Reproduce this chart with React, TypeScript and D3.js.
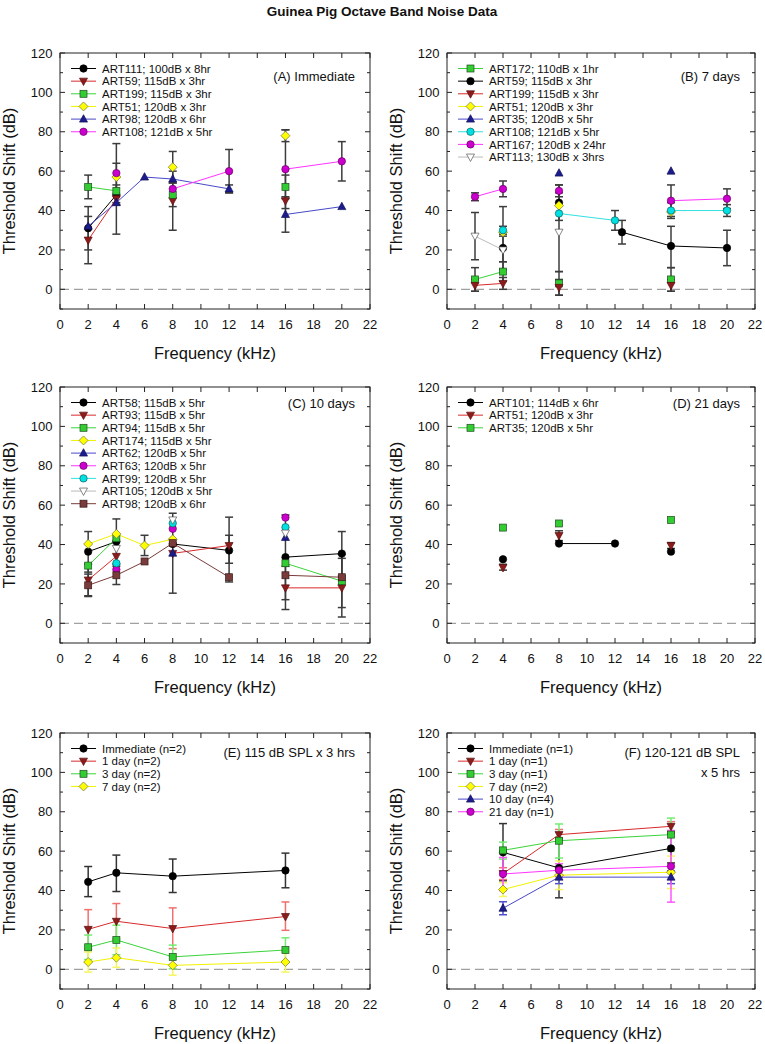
import * as d3 from 'd3';

// [freq kHz, shift dB, errLow, errHigh]; null breaks the line
type Pt = [number, number, number?, number?] | null;

const X_TICKS = [0, 2, 4, 6, 8, 10, 12, 14, 16, 18, 20, 22];
const Y_TICKS = [0, 20, 40, 60, 80, 100, 120];
const Y_MINOR = [-10, 10, 30, 50, 70, 90, 110];

// (A) Immediate
const A_ART111: Pt[] = [[2, 31, 20, 42], [4, 48, 43, 53]];
const A_ART59: Pt[] = [[2, 25, 13, 37], [4, 46, 28, 64], null, [8, 45, 30, 60], null, [16, 45]];
const A_ART199: Pt[] = [[2, 52, 46, 58], [4, 50], null, [8, 48, 42, 54], null, [16, 52, 46, 58]];
const A_ART51: Pt[] = [[4, 57], null, [8, 62, 54, 70], null, [16, 78, 75, 81]];
const A_ART98: Pt[] = [[2, 32], [4, 44], [6, 57], [8, 56], [12, 51, 49, 53], null, [16, 38, 29, 47], [20, 42]];
const A_ART108: Pt[] = [[4, 59, 44, 74], null, [8, 51], [12, 60, 49, 71], null, [16, 61, 41, 81], [20, 65, 55, 75]];

// (B) 7 days
const B_ART172: Pt[] = [[2, 5, -1, 11], [4, 9, 4, 14], null, [8, 3, -3, 9], null, [16, 5, -1, 11]];
const B_ART59: Pt[] = [[4, 21, 14, 28], null, [8, 44, 35, 53], null, [12.5, 29, 23, 35], [16, 22, 11, 32], [20, 21, 12, 30]];
const B_ART199: Pt[] = [[2, 2, -1, 5], [4, 3, 0, 6], null, [8, 1, -3, 5], null, [16, 2, -1, 5]];
const B_ART51: Pt[] = [[4, 29], null, [8, 42.5], null, [16, 39.3]];
const B_ART35: Pt[] = [[8, 59], null, [16, 60]];
const B_ART108: Pt[] = [[4, 30, 27, 32], null, [8, 38.5], [12, 35, 30, 40], null, [16, 40, 36, 44], [20, 40, 37, 43]];
const B_ART167: Pt[] = [[2, 47, 45, 49], [4, 51, 47, 55], null, [8, 50, 47, 53], null, [16, 45, 37, 53], [20, 46, 41, 51]];
const B_ART113: Pt[] = [[2, 27, 15, 39], [4, 20, 10, 42], null, [8, 29, 9, 49]];

// (C) 10 days
const C_ART58: Pt[] = [[2, 36.4, 26, 46.6], [4, 41.5, 30, 53], null, [8, 40.3], [12, 37, 21, 53.9], null, [16, 33.6, 12, 55], [20, 35.4, 24, 46.6]];
const C_ART93: Pt[] = [[2, 22, 14, 30], [4, 34], null, [8, 35.5], [12, 39.5, 30.5, 44.7], null, [16, 18, 7, 29], [20, 18, 3.2, 33]];
const C_ART94: Pt[] = [[2, 29.3], [4, 43.2], null, [16, 30.5], [20, 21.4, 8, 35]];
const C_ART174: Pt[] = [[2, 40.3], [4, 45.4], [6, 39.5, 34.4, 44.7], [8, 42.7]];
const C_ART62: Pt[] = [[8, 35.6, 15.3, 55.9], null, [16, 43.6]];
const C_ART63: Pt[] = [[4, 27.3], null, [8, 48], null, [16, 53.7]];
const C_ART99: Pt[] = [[4, 30.5], null, [8, 50.8], null, [16, 48.8]];
const C_ART105: Pt[] = [[4, 38], null, [8, 52.5], null, [16, 45.8]];
const C_ART98: Pt[] = [[2, 19.3, 13.6, 25], [4, 24.4, 19.7, 29], [6, 31.4], [8, 40.7], [12, 23.4], null, [16, 24.4], [20, 23.4]];

// (D) 21 days
const D_ART101: Pt[] = [[4, 32.5], null, [8, 40.5], [12, 40.5], null, [16, 36.4]];
const D_ART51: Pt[] = [[4, 28.3, 27, 30], null, [8, 44.6, 42, 47], null, [16, 39.5, 38, 41]];
const D_ART35: Pt[] = [[4, 48.6], null, [8, 50.7], null, [16, 52.5]];

// (E) 115 dB SPL x 3 hrs
const E_IMM: Pt[] = [[2, 44.4, 36.9, 52.2], [4, 49, 39.5, 58], [8, 47.3, 39, 56], [16, 50.2, 41.4, 59]];
const E_1D: Pt[] = [[2, 20.3, 10.3, 30.3], [4, 24.4, 15.4, 33.4], [8, 20.7, 10.5, 31.2], [16, 26.8, 19.8, 34.2]];
const E_3D: Pt[] = [[2, 11.2, 5, 17.4], [4, 14.9, 7.4, 22.4], [8, 6.3, 0.3, 12.3], [16, 9.8, 3.6, 16]];
const E_7D: Pt[] = [[2, 3.7, -1.4, 8.8], [4, 5.9, 1, 10.8], [8, 2, -3, 7], [16, 3.7, -1.4, 8.8]];

// (F) 120-121 dB SPL x 5 hrs
const F_IMM: Pt[] = [[4, 59.4, 45, 74], [8, 51.5, 36.3, 66.7], [16, 61.4, 54, 69]];
const F_1D: Pt[] = [[4, 48.6, 45.6, 51.6], [8, 68.4, 66, 71], [16, 72.6, 70, 75]];
const F_3D: Pt[] = [[4, 60.4, 56, 64.6], [8, 65.3, 56.5, 73.8], [16, 68.4, 60, 76.8]];
const F_7D: Pt[] = [[4, 40.5, 37, 44], [8, 47.8, 40.5, 55], [16, 49.3, 41, 57.5]];
const F_10D: Pt[] = [[4, 31, 27.7, 34.3], [8, 46.8, 43.5, 50], [16, 46.8, 43.5, 50]];
const F_21D: Pt[] = [[4, 48.4, 40, 56.8], [8, 50.3, 47, 53.6], [16, 52.3, 34.1, 70.5]];

type Shape = 'circle' | 'square' | 'triUp' | 'triDown' | 'diamond';
interface Style { line: string; fill: string; stroke: string; shape: Shape; err: string }

const STYLES: Record<string, Style> = {
  black: { line: '#000', fill: '#000', stroke: '#000', shape: 'circle', err: '#333' },
  red: { line: '#d82a2a', fill: '#8c1c1c', stroke: '#5a1010', shape: 'triDown', err: '#f07070' },
  green: { line: '#3ad43a', fill: '#33cc33', stroke: '#1d4d1d', shape: 'square', err: '#70ee70' },
  yellow: { line: '#f2f200', fill: '#ffff00', stroke: '#707040', shape: 'diamond', err: '#f6f660' },
  blue: { line: '#4848c8', fill: '#1c1c8c', stroke: '#10105a', shape: 'triUp', err: '#5050d0' },
  pink: { line: '#ff33ff', fill: '#cc00cc', stroke: '#660066', shape: 'circle', err: '#ff55ff' },
  cyan: { line: '#33e0e0', fill: '#00e0e0', stroke: '#106060', shape: 'circle', err: '#33e0e0' },
  gray: { line: '#bbbbbb', fill: '#ffffff', stroke: '#555', shape: 'triDown', err: '#999' },
  brown: { line: '#7a3b3b', fill: '#7a3b3b', stroke: '#3a1a1a', shape: 'square', err: '#7a3b3b' },
};

interface Series { label: string; style: string; data: Pt[] }
interface PanelCfg {
  col: number; row: number; series: Series[];
  title: string[]; titleDy: number; colorErr: boolean;
}

const PANELS: PanelCfg[] = [
  {
    col: 0, row: 0, title: ['(A) Immediate'], titleDy: 23, colorErr: false,
    series: [
      { label: 'ART111; 100dB x 8hr', style: 'black', data: A_ART111 },
      { label: 'ART59; 115dB x 3hr', style: 'red', data: A_ART59 },
      { label: 'ART199; 115dB x 3hr', style: 'green', data: A_ART199 },
      { label: 'ART51; 120dB x 3hr', style: 'yellow', data: A_ART51 },
      { label: 'ART98; 120dB x 6hr', style: 'blue', data: A_ART98 },
      { label: 'ART108; 121dB x 5hr', style: 'pink', data: A_ART108 },
    ],
  },
  {
    col: 1, row: 0, title: ['(B) 7 days'], titleDy: 23, colorErr: false,
    series: [
      { label: 'ART172; 110dB x 1hr', style: 'green', data: B_ART172 },
      { label: 'ART59; 115dB x 3hr', style: 'black', data: B_ART59 },
      { label: 'ART199; 115dB x 3hr', style: 'red', data: B_ART199 },
      { label: 'ART51; 120dB x 3hr', style: 'yellow', data: B_ART51 },
      { label: 'ART35; 120dB x 5hr', style: 'blue', data: B_ART35 },
      { label: 'ART108; 121dB x 5hr', style: 'cyan', data: B_ART108 },
      { label: 'ART167; 120dB x 24hr', style: 'pink', data: B_ART167 },
      { label: 'ART113; 130dB x 3hrs', style: 'gray', data: B_ART113 },
    ],
  },
  {
    col: 0, row: 1, title: ['(C) 10 days'], titleDy: 16, colorErr: false,
    series: [
      { label: 'ART58; 115dB x 5hr', style: 'black', data: C_ART58 },
      { label: 'ART93; 115dB x 5hr', style: 'red', data: C_ART93 },
      { label: 'ART94; 115dB x 5hr', style: 'green', data: C_ART94 },
      { label: 'ART174; 115dB x 5hr', style: 'yellow', data: C_ART174 },
      { label: 'ART62; 120dB x 5hr', style: 'blue', data: C_ART62 },
      { label: 'ART63; 120dB x 5hr', style: 'pink', data: C_ART63 },
      { label: 'ART99; 120dB x 5hr', style: 'cyan', data: C_ART99 },
      { label: 'ART105; 120dB x 5hr', style: 'gray', data: C_ART105 },
      { label: 'ART98; 120dB x 6hr', style: 'brown', data: C_ART98 },
    ],
  },
  {
    col: 1, row: 1, title: ['(D) 21 days'], titleDy: 16, colorErr: false,
    series: [
      { label: 'ART101; 114dB x 6hr', style: 'black', data: D_ART101 },
      { label: 'ART51; 120dB x 3hr', style: 'red', data: D_ART51 },
      { label: 'ART35; 120dB x 5hr', style: 'green', data: D_ART35 },
    ],
  },
  {
    col: 0, row: 2, title: ['(E) 115 dB SPL x 3 hrs'], titleDy: 19.7, colorErr: true,
    series: [
      { label: 'Immediate (n=2)', style: 'black', data: E_IMM },
      { label: '1 day (n=2)', style: 'red', data: E_1D },
      { label: '3 day (n=2)', style: 'green', data: E_3D },
      { label: '7 day (n=2)', style: 'yellow', data: E_7D },
    ],
  },
  {
    col: 1, row: 2, title: ['(F) 120-121 dB SPL', 'x 5 hrs'], titleDy: 19.7, colorErr: true,
    series: [
      { label: 'Immediate (n=1)', style: 'black', data: F_IMM },
      { label: '1 day (n=1)', style: 'red', data: F_1D },
      { label: '3 day (n=1)', style: 'green', data: F_3D },
      { label: '7 day (n=2)', style: 'yellow', data: F_7D },
      { label: '10 day (n=4)', style: 'blue', data: F_10D },
      { label: '21 day (n=1)', style: 'pink', data: F_21D },
    ],
  },
];

const COL_LEFT = [60, 447];
const COL_RIGHT = [370, 755];
const ROW_TOP = [53, 387, 733];
const PLOT_H = 256;
const FONT = '"Liberation Sans", Arial, sans-serif';

function Marker({ s, cx, cy }: { s: Style; cx: number; cy: number }) {
  const common = { fill: s.fill, stroke: s.stroke, strokeWidth: 0.7 };
  if (s.shape === 'circle') return <circle cx={cx} cy={cy} r={3.7} {...common} />;
  if (s.shape === 'square') return <rect x={cx - 3.5} y={cy - 3.5} width={7} height={7} {...common} />;
  if (s.shape === 'triUp')
    return <path d={`M${cx},${cy - 4.4}L${cx + 4},${cy + 3}L${cx - 4},${cy + 3}Z`} {...common} />;
  if (s.shape === 'triDown')
    return <path d={`M${cx},${cy + 4.4}L${cx + 4},${cy - 3}L${cx - 4},${cy - 3}Z`} {...common} />;
  return <path d={`M${cx},${cy - 4.5}L${cx + 4.5},${cy}L${cx},${cy + 4.5}L${cx - 4.5},${cy}Z`} {...common} />;
}

function Panel({ cfg }: { cfg: PanelCfg }) {
  const left = COL_LEFT[cfg.col];
  const right = COL_RIGHT[cfg.col];
  const top = ROW_TOP[cfg.row];
  const bottom = top + PLOT_H;
  const x = d3.scaleLinear().domain([0, 22]).range([left, right]);
  const y = d3.scaleLinear().domain([-10, 120]).range([bottom, top]);
  const line = d3
    .line<Pt>()
    .defined((d) => d !== null)
    .x((d) => x(d![0]))
    .y((d) => y(d![1]));

  const pts = (ser: Series) => ser.data.filter((d) => d !== null) as [number, number, number?, number?][];

  return (
    <g fontFamily={FONT}>
      {/* zero line */}
      <line x1={left} x2={right} y1={y(0)} y2={y(0)} stroke="#a0a0a0" strokeWidth={1.2} strokeDasharray="9,5" />

      {/* error bars */}
      {cfg.series.map((ser, si) =>
        pts(ser)
          .filter((d) => d[2] !== undefined)
          .map((d, i) => {
            const col = cfg.colorErr ? STYLES[ser.style].err : '#3c3c3c';
            const cx = x(d[0]);
            return (
              <g key={`e${si}-${i}`} stroke={col} strokeWidth={1.5}>
                <line x1={cx} x2={cx} y1={y(d[2]!)} y2={y(d[3]!)} />
                <line x1={cx - 4} x2={cx + 4} y1={y(d[2]!)} y2={y(d[2]!)} />
                <line x1={cx - 4} x2={cx + 4} y1={y(d[3]!)} y2={y(d[3]!)} />
              </g>
            );
          })
      )}

      {/* lines */}
      {cfg.series.map((ser, si) => (
        <path key={`l${si}`} d={line(ser.data) || ''} fill="none" stroke={STYLES[ser.style].line} strokeWidth={1} />
      ))}

      {/* markers */}
      {cfg.series.map((ser, si) =>
        pts(ser).map((d, i) => <Marker key={`m${si}-${i}`} s={STYLES[ser.style]} cx={x(d[0])} cy={y(d[1])} />)
      )}

      {/* frame */}
      <rect x={left} y={top} width={right - left} height={PLOT_H} fill="none" stroke="#222" strokeWidth={1} />

      {/* ticks */}
      {X_TICKS.map((t) => (
        <g key={`xt${t}`} stroke="#222">
          <line x1={x(t)} x2={x(t)} y1={bottom} y2={bottom - 5} />
          <line x1={x(t)} x2={x(t)} y1={top} y2={top + 5} />
        </g>
      ))}
      {Y_TICKS.map((t) => (
        <g key={`yt${t}`} stroke="#222">
          <line x1={left} x2={left + 5} y1={y(t)} y2={y(t)} />
          <line x1={right} x2={right - 5} y1={y(t)} y2={y(t)} />
        </g>
      ))}
      {Y_MINOR.map((t) => (
        <g key={`ym${t}`} stroke="#222">
          <line x1={left} x2={left + 3} y1={y(t)} y2={y(t)} />
          <line x1={right} x2={right - 3} y1={y(t)} y2={y(t)} />
        </g>
      ))}

      {/* tick labels */}
      {X_TICKS.map((t) => (
        <text key={`xl${t}`} x={x(t)} y={bottom + 20} fontSize={13} textAnchor="middle" fill="#111">
          {t}
        </text>
      ))}
      {Y_TICKS.map((t) => (
        <text key={`yl${t}`} x={left - 7.5} y={y(t) + 4.6} fontSize={13} textAnchor="end" fill="#111">
          {t}
        </text>
      ))}

      {/* axis titles */}
      <text x={(left + right) / 2} y={bottom + 50} fontSize={16.5} textAnchor="middle" fill="#111">
        Frequency (kHz)
      </text>
      <text
        transform={`translate(${left - 45},${(top + bottom) / 2}) rotate(-90)`}
        fontSize={16.5}
        textAnchor="middle"
        fill="#111"
      >
        Threshold Shift (dB)
      </text>

      {/* panel title */}
      {cfg.title.map((t, i) => (
        <text key={`pt${i}`} x={right - 15} y={top + cfg.titleDy + 4.6 + i * 19.6} fontSize={13} textAnchor="end" fill="#111">
          {t}
        </text>
      ))}

      {/* legend */}
      {cfg.series.map((ser, i) => {
        const ly = top + 15.5 + i * 12.65;
        const s = STYLES[ser.style];
        return (
          <g key={`lg${i}`}>
            <line x1={left + 11} x2={left + 36} y1={ly} y2={ly} stroke={s.line} strokeWidth={1} />
            <Marker s={s} cx={left + 23.5} cy={ly} />
            <text x={left + 42} y={ly + 4.1} fontSize={11.5} fill="#111">
              {ser.label}
            </text>
          </g>
        );
      })}
    </g>
  );
}

export default function App() {
  return (
    <svg
      width={765}
      height={1044}
      style={{ position: 'absolute', left: 0, top: 0, background: '#fff' }}
    >
      <rect width={765} height={1044} fill="#fff" />
      <text x={382} y={16} textAnchor="middle" fontSize={13.5} fontWeight="bold" fontFamily={FONT} fill="#111">
        Guinea Pig Octave Band Noise Data
      </text>
      {PANELS.map((p, i) => (
        <Panel key={i} cfg={p} />
      ))}
    </svg>
  );
}
